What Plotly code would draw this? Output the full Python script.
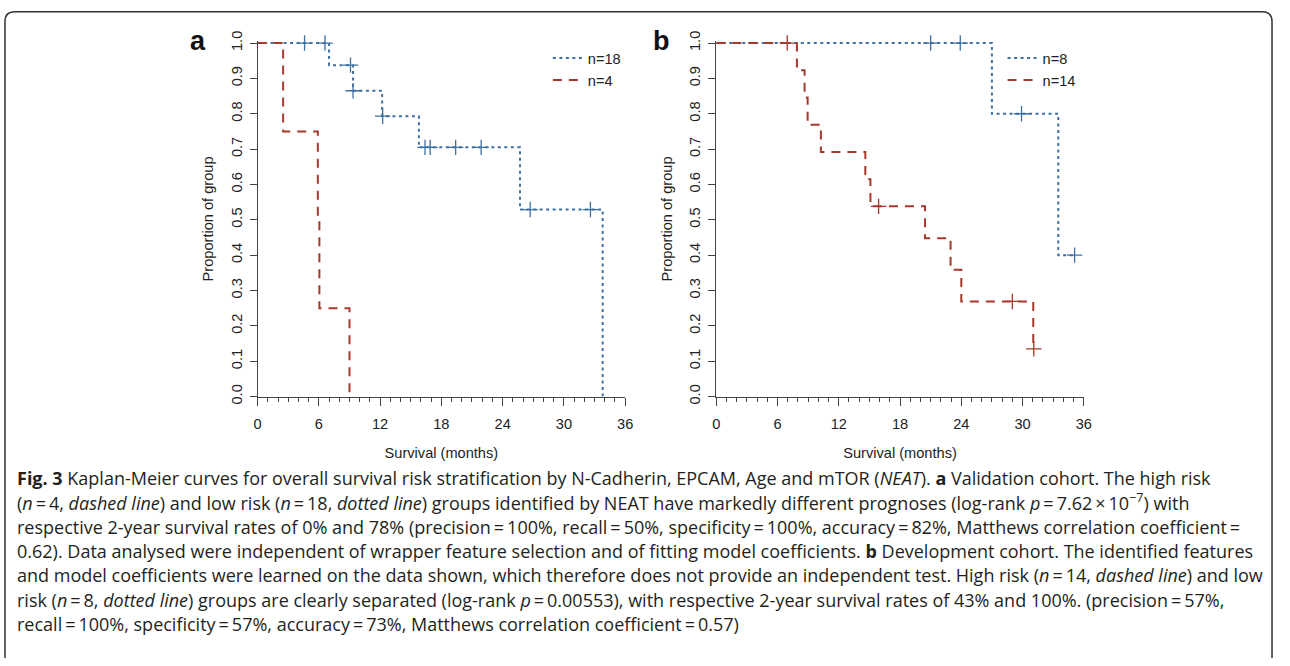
import plotly.graph_objects as go

# ---------------- data ----------------
# Panel a: validation cohort
a_low_t = [0, 7.0, 9.35, 12.2, 15.8, 25.7, 33.8]
a_low_s = [1.0, 0.9375, 0.865, 0.793, 0.705, 0.529, 0.0]
a_low_cens = [4.6, 6.6, 9.1, 9.35, 12.25, 16.4, 16.9, 19.4, 21.9, 26.7, 32.6]

a_high_t = [0, 2.5, 5.9, 6.05, 9.0]
a_high_s = [1.0, 0.75, 0.5, 0.25, 0.0]
a_high_cens = []

# Panel b: development cohort
b_low_t = [0, 27.0, 33.5, 35.1]
b_low_s = [1.0, 0.8, 0.4, 0.4]
b_low_cens = [21.0, 23.9, 29.9, 35.1]

b_high_t = [0, 7.9, 8.65, 8.95, 10.25, 14.6, 15.1, 20.45, 22.95, 24.0, 31.05]
b_high_s = [1.0, 0.923, 0.846, 0.769, 0.692, 0.615, 0.538, 0.448, 0.359, 0.269, 0.135]
b_high_cens = [6.95, 15.9, 29.0, 31.1]

legend_a = ["n=18", "n=4"]
legend_b = ["n=8", "n=14"]

x_ticks = [0, 6, 12, 18, 24, 30, 36]
y_ticks = [0.0, 0.1, 0.2, 0.3, 0.4, 0.5, 0.6, 0.7, 0.8, 0.9, 1.0]
y_tick_text = ["0.0", "0.1", "0.2", "0.3", "0.4", "0.5", "0.6", "0.7", "0.8", "0.9", "1.0"]

caption_lines = [
    "<b>Fig. 3</b> Kaplan-Meier curves for overall survival risk stratification by N-Cadherin, EPCAM, Age and mTOR (<i>NEAT</i>). <b>a</b> Validation cohort. The high risk",
    "(<i>n</i>\u2009=\u20094, <i>dashed line</i>) and low risk (<i>n</i>\u2009=\u200918, <i>dotted line</i>) groups identified by NEAT have markedly different prognoses (log-rank <i>p</i>\u2009=\u20097.62\u2009\u00d7\u200910<sup>\u22127</sup>) with",
    "respective 2-year survival rates of 0% and 78% (precision\u2009=\u2009100%, recall\u2009=\u200950%, specificity\u2009=\u2009100%, accuracy\u2009=\u200982%, Matthews correlation coefficient\u2009=",
    "0.62). Data analysed were independent of wrapper feature selection and of fitting model coefficients. <b>b</b> Development cohort. The identified features",
    "and model coefficients were learned on the data shown, which therefore does not provide an independent test. High risk (<i>n</i>\u2009=\u200914, <i>dashed line</i>) and low",
    "risk (<i>n</i>\u2009=\u20098, <i>dotted line</i>) groups are clearly separated (log-rank <i>p</i>\u2009=\u20090.00553), with respective 2-year survival rates of 43% and 100%. (precision\u2009=\u200957%,",
    "recall\u2009=\u2009100%, specificity\u2009=\u200957%, accuracy\u2009=\u200973%, Matthews correlation coefficient\u2009=\u20090.57)",
]

# ---------------- styling / layout geometry ----------------
# The page body keeps the browser's default 8px margin, so the figure starts 8px
# in and is sized to reach the right and bottom edges of the 1290x666 window.
PAGE_W, PAGE_H = 1290, 666
OFF = 8
W, H = PAGE_W - OFF, PAGE_H - OFF

BLUE = "#3F70A4"
RED = "#A5392B"
AXC = "#444444"
TXT = "#222222"
FONT = "Liberation Sans, Arial, sans-serif"
FS = 14.6

ax_a = (264, 635)
ax_b = (727, 1098)
y0_px, y1_px = 405, 41
y_top = 1.005
top_px = y0_px - (y0_px - y1_px) * y_top


def px_x(p):
    return (p - OFF) / W


def px_y(p):
    return 1 - (p - OFF) / H


def step_value(ts, ss, c):
    v = ss[0]
    for t, s in zip(ts, ss):
        if t <= c:
            v = s
    return v


fig = go.Figure()


def add_curve(ts, ss, cens, color, dash, name, xa, ya, legend):
    fig.add_trace(go.Scatter(
        x=ts, y=ss, mode="lines", line=dict(color=color, width=2, dash=dash, shape="hv"),
        name=name, xaxis=xa, yaxis=ya, legend=legend, hoverinfo="skip"))
    if cens:
        fig.add_trace(go.Scatter(
            x=cens, y=[step_value(ts, ss, c) for c in cens], mode="markers",
            marker=dict(symbol="cross-thin-open", size=11, color=color,
                        line=dict(color=color, width=1.3)),
            showlegend=False, xaxis=xa, yaxis=ya, cliponaxis=False, hoverinfo="skip"))


DOT = "3px,3.5px"
DASH = "9px,7px"

add_curve(a_low_t, a_low_s, a_low_cens, BLUE, DOT, legend_a[0], "x", "y", "legend")
add_curve(a_high_t, a_high_s, a_high_cens, RED, DASH, legend_a[1], "x", "y", "legend")
add_curve(b_low_t, b_low_s, b_low_cens, BLUE, DOT, legend_b[0], "x2", "y2", "legend2")
add_curve(b_high_t, b_high_s, b_high_cens, RED, DASH, legend_b[1], "x2", "y2", "legend2")

xaxis_common = dict(
    range=[0, 36], tickvals=x_ticks, ticktext=[str(v) for v in x_ticks],
    ticks="outside", ticklen=8, tickwidth=1, tickcolor=AXC, ticklabelstandoff=6,
    showline=True, linecolor=AXC, linewidth=1, showgrid=False, zeroline=False,
    minor=dict(dtick=1, tick0=0, ticks="outside", ticklen=4, tickcolor=AXC, tickwidth=1),
    tickfont=dict(family=FONT, size=FS, color=TXT),
    title=dict(text="Survival (months)", font=dict(family=FONT, size=FS, color=TXT), standoff=16),
)
yaxis_common = dict(
    range=[0, y_top], tickvals=y_ticks, ticktext=y_tick_text, tickangle=-90,
    ticks="outside", ticklen=7, tickwidth=1, tickcolor=AXC, ticklabelstandoff=2,
    showline=True, linecolor=AXC, linewidth=1, showgrid=False, zeroline=False,
    tickfont=dict(family=FONT, size=FS, color=TXT),
    title=dict(text="Proportion of group", font=dict(family=FONT, size=FS, color=TXT), standoff=11),
)

dom_y = [px_y(y0_px), px_y(top_px)]

legend_common = dict(xanchor="left", yanchor="top", bgcolor="rgba(0,0,0,0)",
                     font=dict(family=FONT, size=FS, color=TXT), itemwidth=30, tracegroupgap=0)

fig.update_layout(
    width=W, height=H, margin=dict(l=0, r=0, t=0, b=0),
    paper_bgcolor="white", plot_bgcolor="white",
    xaxis=dict(domain=[px_x(ax_a[0]), px_x(ax_a[1])], anchor="y", **xaxis_common),
    yaxis=dict(domain=dom_y, anchor="x", **yaxis_common),
    xaxis2=dict(domain=[px_x(ax_b[0]), px_x(ax_b[1])], anchor="y2", **xaxis_common),
    yaxis2=dict(domain=dom_y, anchor="x2", **yaxis_common),
    legend=dict(x=px_x(557), y=px_y(40), **legend_common),
    legend2=dict(x=px_x(1016), y=px_y(40), **legend_common),
    showlegend=True,
)

# panel letters
for letter, xp in (("a", 204), ("b", 672)):
    fig.add_annotation(text=f"<b>{letter}</b>", x=px_x(xp), y=px_y(39), xref="paper", yref="paper",
                       showarrow=False, xanchor="center", yanchor="middle",
                       font=dict(family=FONT, size=27, color="#111"))

# caption
for i, line in enumerate(caption_lines):
    fig.add_annotation(text=line, x=px_x(19), y=px_y(489 + 25 * i), xref="paper", yref="paper",
                       showarrow=False, xanchor="left", yanchor="middle", align="left",
                       font=dict(family="Open Sans, sans-serif", size=18.0, color="#231F20"))

# rounded frame (open at the bottom, continues past the window)
L, T, R, B = 9, 8.8, 1288, 760
r = 10
path = (f"M {px_x(L)},{px_y(B)} L {px_x(L)},{px_y(T + r)} Q {px_x(L)},{px_y(T)} {px_x(L + r)},{px_y(T)} "
        f"L {px_x(R - r)},{px_y(T)} Q {px_x(R)},{px_y(T)} {px_x(R)},{px_y(T + r)} L {px_x(R)},{px_y(B)}")
fig.add_shape(type="path", path=path, xref="paper", yref="paper", line=dict(color="#333", width=1.5))

fig.write_html("out.html")
